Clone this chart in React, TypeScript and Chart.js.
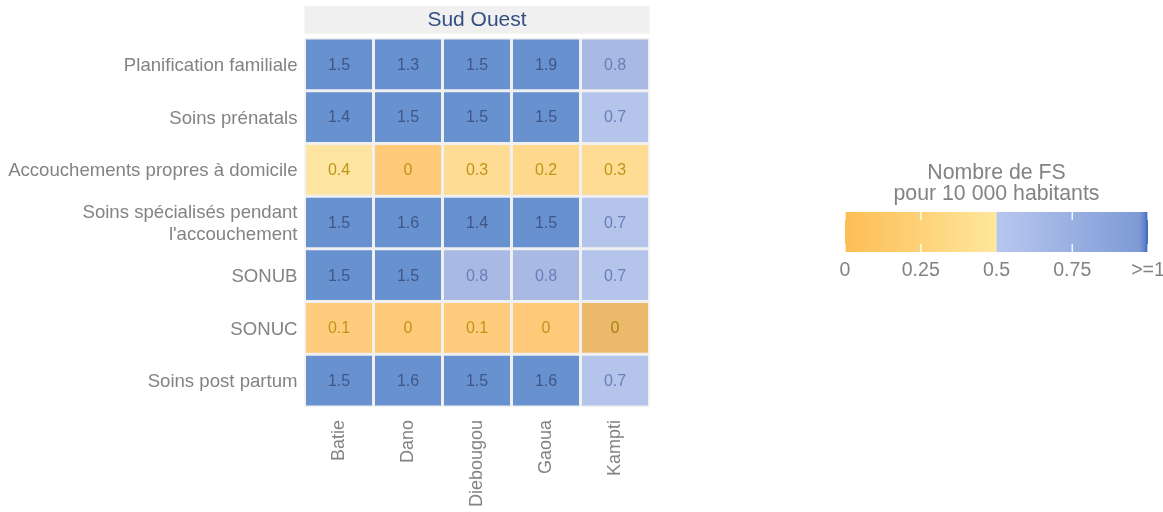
import React, { useEffect, useRef } from 'react';
import { Chart, registerables } from 'chart.js';

Chart.register(...registerables);

const FONT = "'Liberation Sans', Arial, Helvetica, sans-serif";

const PANEL_TITLE = 'Sud Ouest';
const LEGEND_TITLE = ['Nombre de FS', 'pour 10 000 habitants'];
const LEGEND_TICKS = [0, 0.25, 0.5, 0.75, 1];
const LEGEND_TICK_LABELS = ['0', '0.25', '0.5', '0.75', '>=1'];

const districts = ['Batie', 'Dano', 'Diebougou', 'Gaoua', 'Kampti'];
const indicators: (string | string[])[] = [
  'Planification familiale',
  'Soins prénatals',
  'Accouchements propres à domicile',
  ['Soins spécialisés pendant', "l'accouchement"],
  'SONUB',
  'SONUC',
  'Soins post partum',
];

// values per district, in indicator order
const batie = [1.5, 1.4, 0.4, 1.5, 1.5, 0.1, 1.5];
const dano = [1.3, 1.5, 0.04, 1.6, 1.5, 0.04, 1.6];
const diebougou = [1.5, 1.5, 0.3, 1.4, 0.8, 0.1, 1.5];
const gaoua = [1.9, 1.5, 0.2, 1.5, 0.8, 0.04, 1.6];
const kampti = [0.8, 0.7, 0.3, 0.7, 0.7, 0, 0.7];
const VALUES = [batie, dano, diebougou, gaoua, kampti];

const CELL_SPAN = 1;

const PANEL_BG = '#F0F0F0';

// colour stops (value -> rgb)
const COLOR_STOPS: [number, number[]][] = [
  [0, [236, 186, 107]],
  [0.04, [254, 201, 121]],
  [0.1, [254, 204, 124]],
  [0.2, [254, 217, 141]],
  [0.3, [254, 220, 148]],
  [0.4, [253, 228, 160]],
  [0.4999, [254, 232, 168]],
  [0.5, [190, 204, 240]],
  [0.7, [180, 196, 235]],
  [0.8, [168, 185, 227]],
  [0.9999, [140, 165, 218]],
  [1, [104, 145, 208]],
];

function cellColor(v: number): string {
  if (v >= 1) return 'rgb(104,145,208)';
  for (let i = 0; i < COLOR_STOPS.length - 1; i++) {
    const [a, ca] = COLOR_STOPS[i];
    const [b, cb] = COLOR_STOPS[i + 1];
    if (v >= a && v <= b) {
      const t = b === a ? 0 : (v - a) / (b - a);
      const c = ca.map((x, k) => Math.round(x + (cb[k] - x) * t));
      return `rgb(${c[0]},${c[1]},${c[2]})`;
    }
  }
  return 'rgb(104,145,208)';
}

function textColor(v: number): string {
  if (v >= 1) return '#3E5787';
  if (v >= 0.5) return '#6A7FB6';
  if (v === 0) return '#A47E14';
  return '#BE9616';
}

function fmt(v: number): string {
  return String(Math.round(v * 10) / 10);
}

const GRAY = '#838383';

const decorPlugin = {
  id: 'decor',
  beforeDatasetsDraw(chart: any) {
    const { ctx, chartArea: a } = chart;
    ctx.save();
    ctx.fillStyle = PANEL_BG;
    ctx.fillRect(a.left, a.top, a.right - a.left, a.bottom - a.top);
    ctx.restore();
  },
  afterDatasetsDraw(chart: any) {
    const { ctx } = chart;
    ctx.save();
    ctx.font = `16px ${FONT}`;
    ctx.textAlign = 'center';
    ctx.textBaseline = 'middle';
    chart.data.datasets.forEach((_: any, ci: number) => {
      const meta = chart.getDatasetMeta(ci);
      meta.data.forEach((el: any, ri: number) => {
        const p = el.getCenterPoint();
        const v = VALUES[ci][ri];
        ctx.fillStyle = textColor(v);
        ctx.fillText(fmt(v), p.x, p.y + 1);
      });
    });
    ctx.restore();
  },
  afterDraw(chart: any) {
    const { ctx, chartArea: a } = chart;
    ctx.save();
    // strip
    ctx.fillStyle = PANEL_BG;
    ctx.fillRect(a.left, 6, a.right - a.left, 27.5);
    ctx.fillStyle = '#344E82';
    ctx.font = `21px ${FONT}`;
    ctx.textAlign = 'center';
    ctx.textBaseline = 'middle';
    ctx.fillText(PANEL_TITLE, (a.left + a.right) / 2, 20.5);

    // legend
    const lx0 = 845;
    const lx1 = 1148;
    const ly0 = 212;
    const ly1 = 252;
    const cx = (lx0 + lx1) / 2;
    ctx.fillStyle = GRAY;
    ctx.font = `21.3px ${FONT}`;
    ctx.textBaseline = 'alphabetic';
    ctx.fillText(LEGEND_TITLE[0], cx, 178.5);
    ctx.fillText(LEGEND_TITLE[1], cx, 199.5);

    const mid = lx0 + (lx1 - lx0) * 0.5;
    const g1 = ctx.createLinearGradient(lx0, 0, mid, 0);
    g1.addColorStop(0, '#FDBD55');
    g1.addColorStop(1, '#FEE79C');
    ctx.fillStyle = g1;
    ctx.fillRect(lx0, ly0, mid - lx0, ly1 - ly0);
    const g2 = ctx.createLinearGradient(mid, 0, lx1, 0);
    g2.addColorStop(0, '#B8C7EF');
    g2.addColorStop(0.94, '#7E9BD6');
    g2.addColorStop(0.975, '#6385CC');
    g2.addColorStop(1, '#3F66BC');
    ctx.fillStyle = g2;
    ctx.fillRect(mid, ly0, lx1 - mid, ly1 - ly0);

    ctx.strokeStyle = 'rgba(255,255,255,0.85)';
    ctx.lineWidth = 1.5;
    LEGEND_TICKS.forEach((t) => {
      if (t === 0.5) return;
      const x = lx0 + (lx1 - lx0) * t;
      ctx.beginPath();
      ctx.moveTo(x, ly0);
      ctx.lineTo(x, ly0 + 8);
      ctx.moveTo(x, ly1 - 8);
      ctx.lineTo(x, ly1);
      ctx.stroke();
    });

    ctx.fillStyle = GRAY;
    ctx.font = `19.5px ${FONT}`;
    ctx.textBaseline = 'middle';
    LEGEND_TICKS.forEach((t, i) => {
      const x = lx0 + (lx1 - lx0) * t;
      ctx.fillText(LEGEND_TICK_LABELS[i], x, 271);
    });
    ctx.restore();
  },
};

export default function App() {
  const ref = useRef<HTMLCanvasElement>(null);
  useEffect(() => {
    document.body.style.margin = '0';
    const chart = new Chart(ref.current as HTMLCanvasElement, {
      type: 'bar',
      data: {
        labels: indicators as any,
        datasets: districts.map((d, ci) => ({
          label: d,
          data: indicators.map(() => CELL_SPAN),
          backgroundColor: VALUES[ci].map(cellColor),
          borderColor: PANEL_BG,
          borderWidth: 1.5,
          borderSkipped: false,
          inflateAmount: 0,
          categoryPercentage: 1,
          barPercentage: 1,
        })) as any,
      },
      options: {
        indexAxis: 'y',
        responsive: false,
        animation: false,
        events: [],
        layout: { padding: { top: 38, left: 0, right: 513.5, bottom: 0 } },
        plugins: { legend: { display: false }, tooltip: { enabled: false }, title: { display: false } },
        scales: {
          x: {
            type: 'linear',
            stacked: true,
            min: 0,
            max: districts.length * CELL_SPAN,
            grid: { display: false, drawTicks: false },
            border: { display: false },
            afterBuildTicks: (scale: any) => {
              scale.ticks = districts.map((_, i) => ({ value: (i + 0.5) * CELL_SPAN }));
            },
            afterFit: (scale: any) => {
              scale.height = 105;
            },
            ticks: {
              autoSkip: false,
              minRotation: 90,
              maxRotation: 90,
              padding: 13,
              color: GRAY,
              font: { family: FONT, size: 18 },
              callback: (_v: any, i: number) => districts[i],
            },
          },
          y: {
            type: 'category',
            stacked: true,
            grid: { display: false, drawTicks: false },
            border: { display: false },
            afterFit: (scale: any) => {
              scale.width = 304.5;
            },
            ticks: {
              padding: 7,
              labelOffset: 1.5,
              color: GRAY,
              font: { family: FONT, size: 18.6 },
            },
          },
        },
      } as any,
      plugins: [decorPlugin],
    });
    return () => chart.destroy();
  }, []);
  return <canvas ref={ref} width={1163} height={512} style={{ display: 'block' }} />;
}
